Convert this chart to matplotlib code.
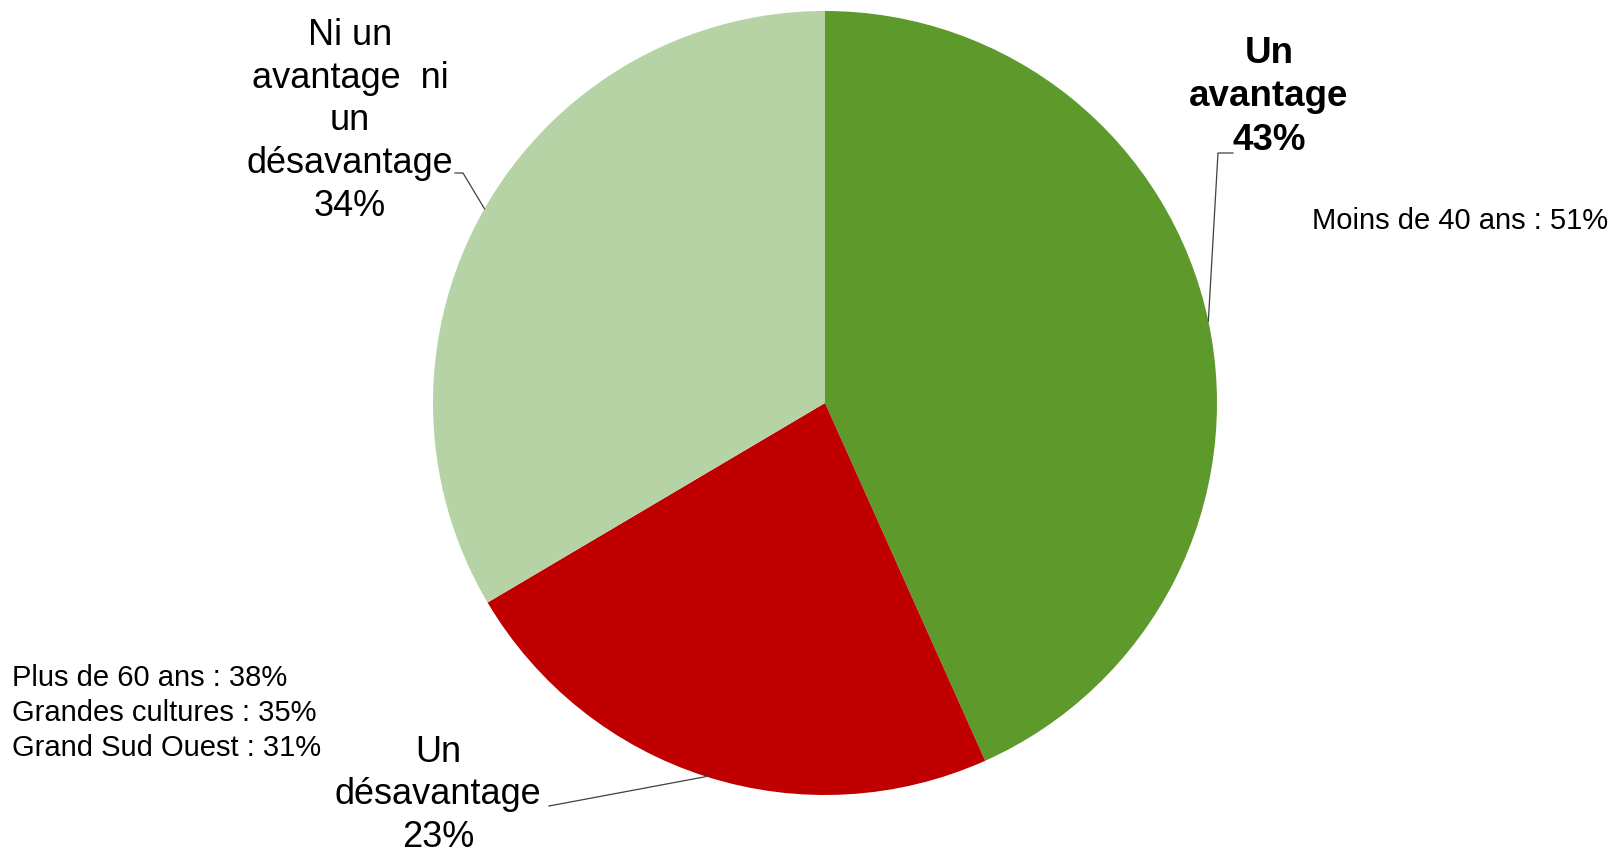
import numpy as np
import matplotlib
matplotlib.use("Agg")
import matplotlib.pyplot as plt

plt.rcParams['font.family'] = ['Liberation Sans', 'DejaVu Sans']

# donnees
categories = ["Un\navantage", "Un\ndésavantage", "Ni un\navantage  ni\nun\ndésavantage"]
valeurs = [43.3, 23.2, 33.5]
couleurs = ["#5E992C", "#C00000", "#B5D3A5"]
note_avantage = "Moins de 40 ans : 51%"
note_desavantage = ["Plus de 60 ans : 38%", "Grandes cultures : 35%", "Grand Sud Ouest : 31%"]

W, H = 1624, 858
fig = plt.figure(figsize=(W / 100, H / 100), dpi=100)
ax = fig.add_axes([0, 0, 1, 1])

cx, cy, r = 825, 403, 392
# y inverse -> sens horaire a l'ecran
wedges, _ = ax.pie(valeurs, colors=couleurs, startangle=-90, counterclock=True,
                   center=(cx, cy), radius=r, frame=True)
ax.set_xlim(0, W)
ax.set_ylim(H, 0)
ax.axis('off')

# angles milieu (sens horaire depuis le haut)
cum = np.cumsum([0] + valeurs)
mid = 90 - (cum[:-1] + np.array(valeurs) / 2) * 3.6
pts = [(cx + r * np.cos(np.radians(a)), cy - r * np.sin(np.radians(a))) for a in mid]
pct = [f"{v:.0f}%" for v in valeurs]

# etiquettes
ax.text(1269, 97, categories[0] + "\n" + pct[0], ha='center', va='center',
        fontsize=26.5, fontweight='bold', linespacing=1.3)
ax.text(438, 795, categories[1] + "\n" + pct[1], ha='center', va='center',
        fontsize=26, linespacing=1.29)
ax.text(350, 121, categories[2] + "\n" + pct[2], ha='center', va='center',
        fontsize=26, linespacing=1.28)

# lignes de rappel
lw = 0.9
ax.plot([pts[0][0], 1218, 1233], [pts[0][1], 153, 153], color='#404040', lw=lw)
ax.plot([pts[1][0], 549], [pts[1][1], 806], color='#404040', lw=lw)
ax.plot([pts[2][0], 463, 455], [pts[2][1], 173, 173], color='#404040', lw=lw)

# notes
ax.text(1312, 221, note_avantage, ha='left', va='center', fontsize=21)
ax.text(12, 713, "\n".join(note_desavantage), ha='left', va='center',
        fontsize=21, linespacing=1.3)

fig.savefig("out.png", dpi=100)
